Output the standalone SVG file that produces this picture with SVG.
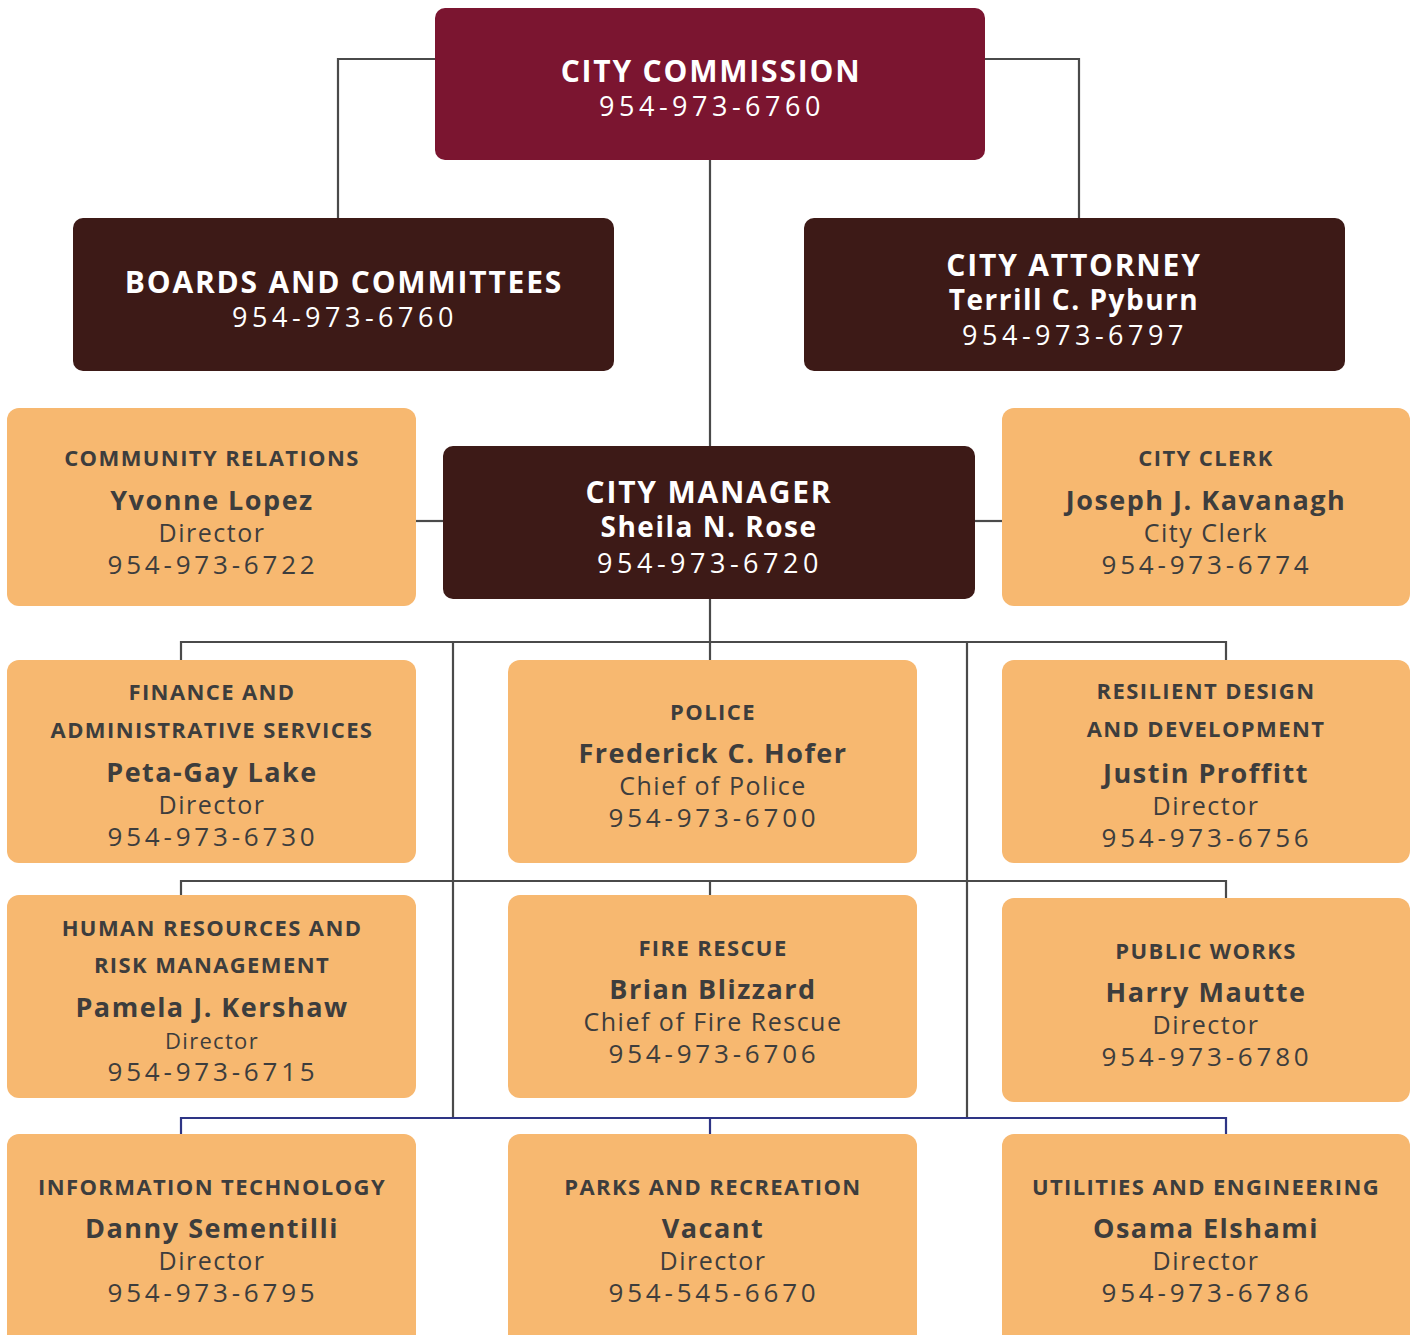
<svg xmlns="http://www.w3.org/2000/svg" width="1415" height="1335" viewBox="0 0 1415 1335">
  <style>
    .bg { fill: #ffffff; }
    .top { fill: #7b1530; }
    .dark { fill: #3d1a17; }
    .dept { fill: #f7b870; }
    .wire { fill: none; stroke: #4a4a4a; stroke-width: 2.2; }
    .wire-navy { fill: none; stroke: #2e3585; stroke-width: 2.2; }
    text { font-family: "Open Sans", "Noto Sans", "Liberation Sans", sans-serif; text-anchor: middle; }
    .wt { fill: #ffffff; font-weight: 700; font-size: 30px; letter-spacing: 1.8px; }
    .wn { fill: #ffffff; font-weight: 700; font-size: 28px; letter-spacing: 1.5px; }
    .wp { fill: #ffffff; font-weight: 400; font-size: 27px; letter-spacing: 4.5px; }
    .dt { fill: #3d3d3d; font-weight: 700; font-size: 22px; letter-spacing: 1.4px; }
    .dn { fill: #3d3d3d; font-weight: 700; font-size: 27px; letter-spacing: 1.5px; }
    .dr { fill: #3d3d3d; font-weight: 400; font-size: 25px; letter-spacing: 1.5px; }
    .dr2 { fill: #3d3d3d; font-weight: 400; font-size: 22px; letter-spacing: 1.3px; }
    .dp { fill: #3d3d3d; font-weight: 400; font-size: 26px; letter-spacing: 3.8px; }
  </style>

  <rect class="bg" x="0" y="0" width="1415" height="1335"/>

  <!-- connectors -->
  <g id="connectors">
    <polyline class="wire" points="435,59 338,59 338,219"/>
    <polyline class="wire" points="985,59 1079,59 1079,219"/>
    <line class="wire" x1="710" y1="160" x2="710" y2="447"/>
    <line class="wire" x1="416" y1="521" x2="444" y2="521"/>
    <line class="wire" x1="975" y1="521" x2="1003" y2="521"/>
    <line class="wire" x1="710" y1="598" x2="710" y2="661"/>
    <polyline class="wire" points="181,661 181,642 1226,642 1226,661"/>
    <line class="wire" x1="453" y1="642" x2="453" y2="1118"/>
    <line class="wire" x1="967" y1="642" x2="967" y2="1118"/>
    <polyline class="wire" points="181,896 181,881 1226,881 1226,899"/>
    <line class="wire" x1="710" y1="881" x2="710" y2="896"/>
    <polyline class="wire-navy" points="181,1135 181,1118 1226,1118 1226,1135"/>
    <line class="wire-navy" x1="710" y1="1118" x2="710" y2="1135"/>
  </g>

  <g id="city-commission">
    <rect class="top" x="435" y="8" width="550" height="152" rx="10"/>
    <text class="wt" x="711" y="82">CITY COMMISSION</text>
    <text class="wp" x="712" y="116">954-973-6760</text>
  </g>

  <g id="boards-committees">
    <rect class="dark" x="73" y="218" width="541" height="153" rx="10"/>
    <text class="wt" x="344" y="293">BOARDS AND COMMITTEES</text>
    <text class="wp" x="345" y="327">954-973-6760</text>
  </g>

  <g id="city-attorney">
    <rect class="dark" x="804" y="218" width="541" height="153" rx="10"/>
    <text class="wt" x="1074" y="276">CITY ATTORNEY</text>
    <text class="wn" x="1074" y="310">Terrill C. Pyburn</text>
    <text class="wp" x="1075" y="345">954-973-6797</text>
  </g>

  <g id="city-manager">
    <rect class="dark" x="443" y="446" width="532" height="153" rx="10"/>
    <text class="wt" x="709" y="503">CITY MANAGER</text>
    <text class="wn" x="709" y="537">Sheila N. Rose</text>
    <text class="wp" x="710" y="573">954-973-6720</text>
  </g>

  <g id="community-relations">
    <rect class="dept" x="7" y="408" width="409" height="198" rx="12"/>
    <text class="dt" x="212" y="466">COMMUNITY RELATIONS</text>
    <text class="dn" x="212" y="510">Yvonne Lopez</text>
    <text class="dr" x="212" y="542">Director</text>
    <text class="dp" x="213" y="574">954-973-6722</text>
  </g>

  <g id="city-clerk">
    <rect class="dept" x="1002" y="408" width="408" height="198" rx="12"/>
    <text class="dt" x="1206" y="466">CITY CLERK</text>
    <text class="dn" x="1206" y="510">Joseph J. Kavanagh</text>
    <text class="dr" x="1206" y="542">City Clerk</text>
    <text class="dp" x="1207" y="574">954-973-6774</text>
  </g>

  <g id="finance">
    <rect class="dept" x="7" y="660" width="409" height="203" rx="12"/>
    <text class="dt" x="212" y="700">FINANCE AND</text>
    <text class="dt" x="212" y="738">ADMINISTRATIVE SERVICES</text>
    <text class="dn" x="212" y="782">Peta-Gay Lake</text>
    <text class="dr" x="212" y="814">Director</text>
    <text class="dp" x="213" y="846">954-973-6730</text>
  </g>

  <g id="police">
    <rect class="dept" x="508" y="660" width="409" height="203" rx="12"/>
    <text class="dt" x="713" y="720">POLICE</text>
    <text class="dn" x="713" y="763">Frederick C. Hofer</text>
    <text class="dr" x="713" y="795">Chief of Police</text>
    <text class="dp" x="714" y="827">954-973-6700</text>
  </g>

  <g id="resilient-design">
    <rect class="dept" x="1002" y="660" width="408" height="203" rx="12"/>
    <text class="dt" x="1206" y="699">RESILIENT DESIGN</text>
    <text class="dt" x="1206" y="737">AND DEVELOPMENT</text>
    <text class="dn" x="1206" y="783">Justin Proffitt</text>
    <text class="dr" x="1206" y="815">Director</text>
    <text class="dp" x="1207" y="847">954-973-6756</text>
  </g>

  <g id="human-resources">
    <rect class="dept" x="7" y="895" width="409" height="203" rx="12"/>
    <text class="dt" x="212" y="936">HUMAN RESOURCES AND</text>
    <text class="dt" x="212" y="973">RISK MANAGEMENT</text>
    <text class="dn" x="212" y="1017">Pamela J. Kershaw</text>
    <text class="dr2" x="212" y="1049">Director</text>
    <text class="dp" x="213" y="1081">954-973-6715</text>
  </g>

  <g id="fire-rescue">
    <rect class="dept" x="508" y="895" width="409" height="203" rx="12"/>
    <text class="dt" x="713" y="956">FIRE RESCUE</text>
    <text class="dn" x="713" y="999">Brian Blizzard</text>
    <text class="dr" x="713" y="1031">Chief of Fire Rescue</text>
    <text class="dp" x="714" y="1063">954-973-6706</text>
  </g>

  <g id="public-works">
    <rect class="dept" x="1002" y="898" width="408" height="204" rx="12"/>
    <text class="dt" x="1206" y="959">PUBLIC WORKS</text>
    <text class="dn" x="1206" y="1002">Harry Mautte</text>
    <text class="dr" x="1206" y="1034">Director</text>
    <text class="dp" x="1207" y="1066">954-973-6780</text>
  </g>

  <g id="information-technology">
    <rect class="dept" x="7" y="1134" width="409" height="215" rx="12"/>
    <text class="dt" x="212" y="1195">INFORMATION TECHNOLOGY</text>
    <text class="dn" x="212" y="1238">Danny Sementilli</text>
    <text class="dr" x="212" y="1270">Director</text>
    <text class="dp" x="213" y="1302">954-973-6795</text>
  </g>

  <g id="parks-recreation">
    <rect class="dept" x="508" y="1134" width="409" height="215" rx="12"/>
    <text class="dt" x="713" y="1195">PARKS AND RECREATION</text>
    <text class="dn" x="713" y="1238">Vacant</text>
    <text class="dr" x="713" y="1270">Director</text>
    <text class="dp" x="714" y="1302">954-545-6670</text>
  </g>

  <g id="utilities-engineering">
    <rect class="dept" x="1002" y="1134" width="408" height="215" rx="12"/>
    <text class="dt" x="1206" y="1195">UTILITIES AND ENGINEERING</text>
    <text class="dn" x="1206" y="1238">Osama Elshami</text>
    <text class="dr" x="1206" y="1270">Director</text>
    <text class="dp" x="1207" y="1302">954-973-6786</text>
  </g>
</svg>
